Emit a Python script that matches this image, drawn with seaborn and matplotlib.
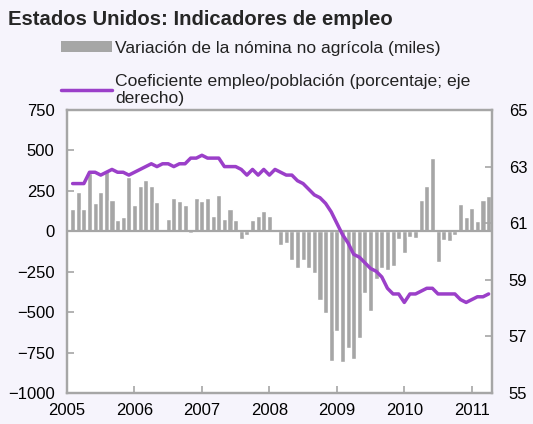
import numpy as np
import pandas as pd
import seaborn as sns
import matplotlib.pyplot as plt
from matplotlib.patches import Patch
from matplotlib.lines import Line2D

# Monthly data, Jan 2005 - Mar 2011
nomina = [136, 243, 136, 363, 173, 243, 371, 193, 68, 91, 337, 160,
          277, 315, 280, 182, 10, 78, 208, 185, 160, -10, 208, 185,
          208, 93, 222, 78, 136, 68, -49, -25, 68, 93, 126, 93,
          15, -83, -70, -177, -226, -177, -226, -261, -426, -508, -802, -617,
          -810, -720, -792, -662, -381, -494, -292, -226, -237, -214, -45, -134,
          -35, -39, 195, 278, 455, -189, -51, -60, -25, 171, 88, 146,
          64, 196, 218]
coef = [62.4, 62.4, 62.4, 62.8, 62.8, 62.7, 62.8, 62.9, 62.8, 62.8, 62.7, 62.8,
        62.9, 63.0, 63.1, 63.0, 63.1, 63.1, 63.0, 63.1, 63.1, 63.3, 63.3, 63.4,
        63.3, 63.3, 63.3, 63.0, 63.0, 63.0, 62.9, 62.7, 62.9, 62.7, 62.9, 62.7,
        62.9, 62.8, 62.7, 62.7, 62.5, 62.4, 62.2, 62.0, 61.9, 61.7, 61.4, 61.0,
        60.6, 60.3, 59.9, 59.8, 59.6, 59.4, 59.3, 59.1, 58.7, 58.5, 58.5, 58.2,
        58.5, 58.5, 58.6, 58.7, 58.7, 58.5, 58.5, 58.5, 58.5, 58.3, 58.2, 58.3,
        58.4, 58.4, 58.5]
anios = [2005, 2006, 2007, 2008, 2009, 2010, 2011]
ticks_izq = [-1000, -750, -500, -250, 0, 250, 500, 750]
ticks_der = [55, 57, 59, 61, 63, 65]

lbl_barras = "Variación de la nómina no agrícola (miles)"
lbl_linea = "Coeficiente empleo/población (porcentaje; eje\nderecho)"

df = pd.DataFrame({
    "fecha": 2005 + np.arange(1, len(nomina) + 1) / 12,
    "nomina": nomina,
    "coef": coef,
})

gris = "#A6A6A6"
morado = "#9B3FC9"
fondo = "#F6F4FC"

sns.set_theme(style="white")
plt.rcParams["font.family"] = ["Liberation Sans", "DejaVu Sans"]

fig = plt.figure(figsize=(5.33, 4.24), dpi=100, facecolor=fondo)
ax = fig.add_axes([67 / 533, 1 - 393 / 424, (492 - 67) / 533, (393 - 110) / 424])
ax.set_facecolor("white")

sns.barplot(data=df, x="fecha", y="nomina", native_scale=True, color=gris,
            saturation=1, width=0.9, errorbar=None, ax=ax)
ax.axhline(0, color=gris, lw=1.6, zorder=3)

ax2 = ax.twinx()
sns.lineplot(data=df, x="fecha", y="coef", color=morado, lw=2.5, ax=ax2)

ax.set_xlim(2005, 2005 + 75.6 / 12)
ax.set_ylim(-1000, 750)
ax2.set_ylim(55, 65)
ax.set_xticks(anios)
ax.set_xticklabels([str(a) for a in anios])
ax.set_yticks(ticks_izq)
ax2.set_yticks(ticks_der)
ax.set_xlabel("")
ax.set_ylabel("")
ax2.set_ylabel("")

for a in (ax, ax2):
    for s in a.spines.values():
        s.set_visible(True)
        s.set_color(gris)
        s.set_linewidth(1.6)
    a.tick_params(direction="in", length=5, width=1.2, color=gris,
                  labelsize=12, labelcolor="black")
ax.tick_params(axis="y", left=True, pad=9)
ax.tick_params(axis="x", bottom=True, pad=7)
ax2.tick_params(axis="y", right=True, pad=12)

fig.text(0.015, 0.955, "Estados Unidos: Indicadores de empleo",
         fontsize=14.6, weight="bold", va="center", ha="left")

handles = [Patch(facecolor=gris, edgecolor="none"),
           Line2D([], [], color=morado, lw=2.5)]
leg = fig.legend(handles, [lbl_barras, lbl_linea], loc="upper left",
                 bbox_to_anchor=(61 / 533, 1 - 41 / 424), frameon=False,
                 fontsize=12.6, handlelength=2.9, handleheight=0.6,
                 handletextpad=0.2, labelspacing=1.05, borderpad=0,
                 borderaxespad=0)
for t in leg.get_texts():
    t.set_linespacing(1.1)
    t.set_color("#222222")

fig.savefig("out.png", dpi=100, facecolor=fondo)
